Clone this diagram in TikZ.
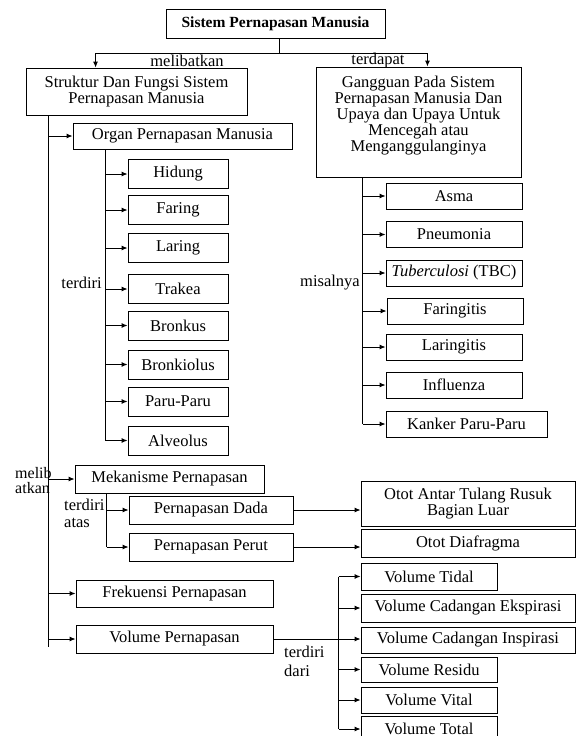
\documentclass[tikz,border=0pt]{standalone}
\usepackage{fontspec}
\setmainfont{Liberation Serif}
\usetikzlibrary{arrows.meta}
\newcommand\fsz{\fontsize{16.5}{16}\selectfont}
\newcommand\fszb{\fontsize{15.5}{16}\selectfont\bfseries}
\begin{document}
\begin{tikzpicture}[x=1pt,y=-1pt,
  box/.style={draw, line width=0.9pt, inner sep=1pt, align=center, font=\fsz},
  conn/.style={line width=0.9pt},
  arr/.style={line width=0.9pt, -{Latex[length=6pt,width=5pt]}},
  lbl/.style={inner sep=0pt, font=\fsz}]
\useasboundingbox (0,0) rectangle (576,736);
\clip (0,0) rectangle (576,736);
\fill[white] (0,0) rectangle (576,736);

% top level
\node[box, font=\fszb, minimum width=219pt, minimum height=29pt] (top) at (275.5,23.5) {Sistem Pernapasan Manusia};
\node[box, minimum width=221pt, minimum height=47pt] (L) at (136.5,91.5) {Struktur Dan Fungsi Sistem\\Pernapasan Manusia};
\node[box, minimum width=205pt, minimum height=110pt] (R) at (418.5,122) {Gangguan Pada Sistem\\Pernapasan Manusia Dan\\Upaya dan Upaya Untuk\\Mencegah atau\\Menganggulanginya\\\mbox{}};

\coordinate (j) at ([xshift=3.5pt]top.south |- 0,53);
\draw[conn] (j |- top.south) -- (j);
\draw[arr] (j) -| ([xshift=70pt]L.north west);
\draw[arr] (j) -| ([xshift=-94pt]R.north east);
\node[lbl] (lmel) at (187,61) {melibatkan};
\node[lbl] (lter) at (378,61) {terdapat};

% left branch
\node[box, minimum width=219pt, minimum height=26pt] (organ) at (182.5,136) {Organ Pernapasan Manusia};
\node[box, minimum width=100pt, minimum height=29pt] (hid) at (178,174) {Hidung};
\node[box, minimum width=100pt, minimum height=29pt] (far) at (178,210) {Faring};
\node[box, minimum width=100pt, minimum height=29pt] (lar) at (178,248) {Laring};
\node[box, minimum width=100pt, minimum height=29pt] (tra) at (178,289) {Trakea};
\node[box, minimum width=100pt, minimum height=29pt] (bro) at (178,325.5) {Bronkus};
\node[box, minimum width=100pt, minimum height=29pt] (brol) at (178,364.5) {Bronkiolus};
\node[box, minimum width=100pt, minimum height=29pt] (paru) at (178,401.5) {Paru-Paru};
\node[box, minimum width=100pt, minimum height=29pt] (alv) at (178,440.5) {Alveolus};

\node[box, minimum width=189pt, minimum height=28pt] (mek) at (169.5,479) {Mekanisme Pernapasan};
\node[box, minimum width=164pt, minimum height=28pt] (dada) at (211,510) {Pernapasan Dada};
\node[box, minimum width=164pt, minimum height=28pt] (perut) at (211,547) {Pernapasan Perut};
\node[box, minimum width=214pt, minimum height=45pt] (otot) at (468,503.5) {Otot Antar Tulang Rusuk\\Bagian Luar};
\node[box, minimum width=214pt, minimum height=28pt] (diaf) at (468,543) {Otot Diafragma};

\node[box, minimum width=197pt, minimum height=27pt] (frek) at (174.5,593.5) {Frekuensi Pernapasan};
\node[box, minimum width=197pt, minimum height=28pt] (volp) at (174.5,639) {Volume Pernapasan};

\node[box, minimum width=136pt, minimum height=27pt] (vtid) at (429,576.5) {Volume Tidal};
\node[box, minimum width=214pt, minimum height=28pt] (vce) at (468,608) {Volume Cadangan Ekspirasi};
\node[box, minimum width=214pt, minimum height=26pt] (vci) at (468,640) {Volume Cadangan Inspirasi};
\node[box, minimum width=136pt, minimum height=25pt] (vres) at (429,669.5) {Volume Residu};
\node[box, minimum width=136pt, minimum height=26pt] (vvit) at (429,700) {Volume Vital};
\node[box, minimum width=136pt, minimum height=26pt] (vtot) at (429,729) {Volume Total};

% left trunk
\coordinate (lb) at ([xshift=23pt]L.south west);
\coordinate (le) at (lb |- 0,647);
\draw[conn] (lb) -- (le);
\foreach \n in {organ,mek,frek,volp} \draw[arr] (lb |- \n.west) -- (\n.west);
\node[lbl, anchor=west, align=left, font=\fontsize{16}{15}\selectfont] (lmel2) at (15,480.5) {melib\\atkan};

% organ trunk
\coordinate (ot) at ([xshift=33pt]organ.south west);
\draw[conn] (ot) -- (ot |- alv.west);
\foreach \n in {hid,far,lar,tra,bro,brol,paru,alv} \draw[arr] (ot |- \n.west) -- (\n.west);
\node[lbl, anchor=east] (lterd) at (102,283) {terdiri};

% mekanisme trunk
\coordinate (mt) at ([xshift=32pt]mek.south west);
\draw[conn] (mt) -- (mt |- perut.west);
\foreach \n in {dada,perut} \draw[arr] (mt |- \n.west) -- (\n.west);
\node[lbl, anchor=west, align=left, font=\fontsize{16.5}{17}\selectfont] (lat) at (64,513.5) {terdiri\\atas};
\draw[arr] (dada.east) -- (dada.east -| otot.west);
\draw[arr] (perut.east) -- (perut.east -| diaf.west);

% volume trunk
\coordinate (vt) at ([xshift=-22pt]vtid.west);
\draw[conn] (vt) -- (vt |- vtot.west);
\foreach \n in {vtid,vce,vres,vvit,vtot} \draw[arr] (vt |- \n.west) -- (\n.west);
\draw[arr] (volp.east) -- (volp.east -| vci.west);
\node[lbl, anchor=west, align=left, font=\fontsize{16.5}{19}\selectfont] (ldari) at (284,661.5) {terdiri\\dari};

% right branch
\node[box, minimum width=136pt, minimum height=26pt] (asma) at (454,196) {Asma};
\node[box, minimum width=136pt, minimum height=26pt] (pneu) at (454,234.5) {Pneumonia};
\node[box, minimum width=136pt, minimum height=26pt] (tbc) at (454,273) {\textit{Tuberculosi} (TBC)};
\node[box, minimum width=136pt, minimum height=26pt] (fars) at (455,311) {Faringitis};
\node[box, minimum width=136pt, minimum height=26pt] (lars) at (454,347) {Laringitis};
\node[box, minimum width=136pt, minimum height=26pt] (infl) at (454,385) {Influenza};
\node[box, minimum width=161pt, minimum height=26pt] (kank) at (466.5,424) {Kanker Paru-Paru};
\coordinate (rt) at ([xshift=47pt]R.south west);
\draw[conn] (rt) -- (rt |- kank.west);
\foreach \n in {asma,pneu,tbc,fars,lars,infl,kank} \draw[arr] (rt |- \n.west) -- (\n.west);
\node[lbl, anchor=east] (lmis) at (360,283) {misalnya};
\end{tikzpicture}
\end{document}
